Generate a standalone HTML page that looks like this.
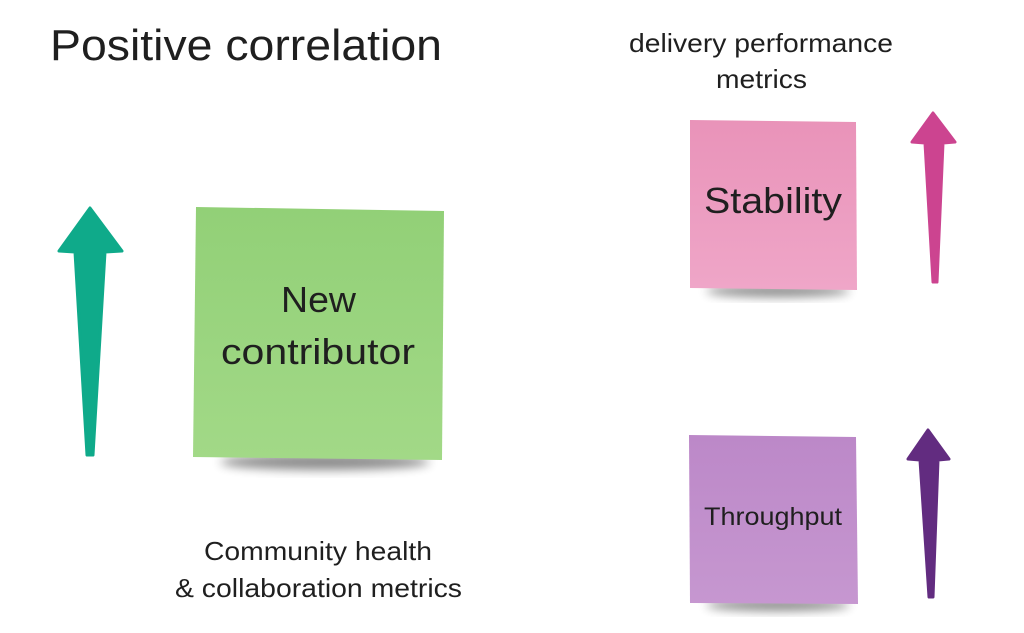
<!DOCTYPE html>
<html><head><meta charset="utf-8"><style>
html,body{margin:0;padding:0;background:#fff;}
svg{display:block;}
text{font-family:"Liberation Sans",sans-serif;fill:#1f1f1f;}
</style></head><body>
<svg width="1024" height="633" viewBox="0 0 1024 633" xmlns="http://www.w3.org/2000/svg">
<defs>
<linearGradient id="g" x1="0" y1="0" x2="0" y2="1"><stop offset="0" stop-color="#92d077"/><stop offset="1" stop-color="#a2d987"/></linearGradient>
<linearGradient id="p" x1="0" y1="0" x2="0" y2="1"><stop offset="0" stop-color="#e993b9"/><stop offset="1" stop-color="#efa6c8"/></linearGradient>
<linearGradient id="v" x1="0" y1="0" x2="0" y2="1"><stop offset="0" stop-color="#bc88c8"/><stop offset="1" stop-color="#c697d0"/></linearGradient>
<filter id="s" x="-20%" y="-50%" width="140%" height="200%"><feGaussianBlur stdDeviation="5"/></filter>
</defs>
<text x="50" y="60" font-size="44" textLength="392" lengthAdjust="spacingAndGlyphs">Positive correlation</text>
<text x="629" y="52" font-size="26" textLength="264" lengthAdjust="spacingAndGlyphs">delivery performance</text>
<text x="716" y="88" font-size="26" textLength="91" lengthAdjust="spacingAndGlyphs">metrics</text>
<text x="204" y="560" font-size="26" textLength="228" lengthAdjust="spacingAndGlyphs">Community health</text>
<text x="175" y="597" font-size="26" textLength="287" lengthAdjust="spacingAndGlyphs">&amp; collaboration metrics</text>

<ellipse cx="325" cy="462" rx="105" ry="8" fill="#000" opacity="0.45" filter="url(#s)"/>
<polygon points="196,207 444,211 442,460 193,457" fill="url(#g)"/>
<text x="281" y="312" font-size="36" textLength="75" lengthAdjust="spacingAndGlyphs">New</text>
<text x="221" y="364" font-size="36" textLength="194" lengthAdjust="spacingAndGlyphs">contributor</text>

<ellipse cx="778" cy="291" rx="72" ry="6" fill="#000" opacity="0.45" filter="url(#s)"/>
<polygon points="690,120 856,122 857,290 690,288" fill="url(#p)"/>
<text x="704" y="213" font-size="36" textLength="138" lengthAdjust="spacingAndGlyphs">Stability</text>

<ellipse cx="778" cy="605" rx="72" ry="6" fill="#000" opacity="0.45" filter="url(#s)"/>
<polygon points="689,435 856,437 858,604 690,603" fill="url(#v)"/>
<text x="704" y="525" font-size="25" textLength="138" lengthAdjust="spacingAndGlyphs">Throughput</text>

<path d="M90,208 L122,251 L105,252 L93,455 L87,455 L75,252 L59,251 Z" fill="#0faa8a" stroke="#0faa8a" stroke-width="3" stroke-linejoin="round"/>
<path d="M933,113 L955,142 L943,143 L937,282 L933,282 L925,143 L912,142 Z" fill="#cc4490" stroke="#cc4490" stroke-width="3" stroke-linejoin="round"/>
<path d="M928,430 L949,459 L938,460 L933,597 L929,597 L920,460 L908,459 Z" fill="#622c80" stroke="#622c80" stroke-width="3" stroke-linejoin="round"/>
</svg>
</body></html>
